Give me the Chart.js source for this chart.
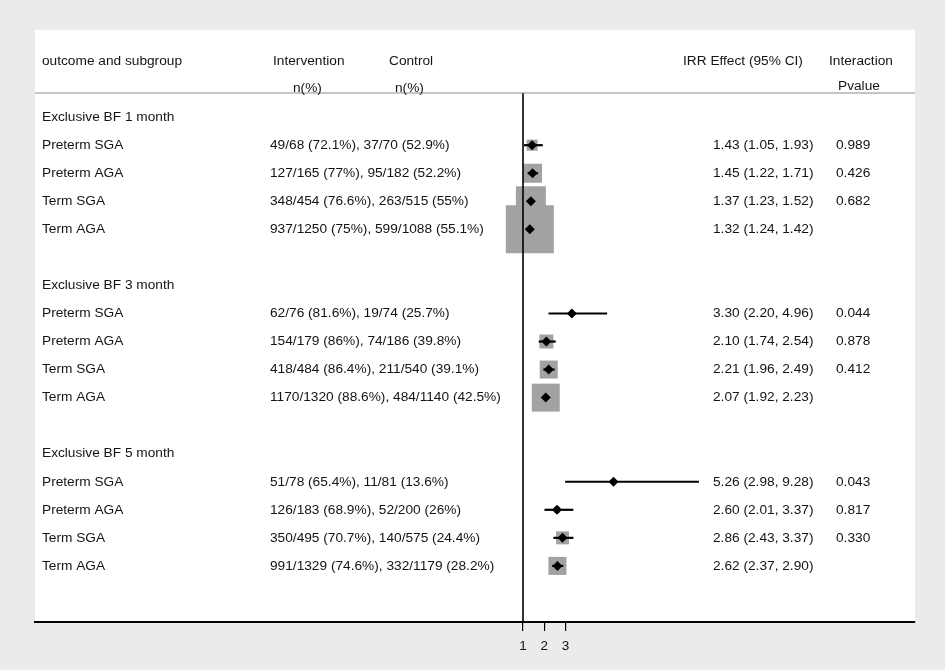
<!DOCTYPE html>
<html><head><meta charset="utf-8">
<script src="https://cdn.jsdelivr.net/npm/chart.js@4.4.1/dist/chart.umd.min.js"></script>
<style>html,body{margin:0;padding:0;background:#ebebeb;overflow:hidden}#wrap{width:945px;height:670px;position:relative}</style>
</head><body><div id="wrap"><canvas id="c" width="945" height="670"></canvas></div>
<script>
const outcomes = ['Exclusive BF 1 month', 'Exclusive BF 3 month', 'Exclusive BF 5 month'];
const subgroups = ['Preterm SGA', 'Preterm AGA', 'Term SGA', 'Term AGA'];
const interventionN = [49, 127, 348, 937, 62, 154, 418, 1170, 51, 126, 350, 991];
const interventionTotal = [68, 165, 454, 1250, 76, 179, 484, 1320, 78, 183, 495, 1329];
const interventionPct = ['72.1', '77', '76.6', '75', '81.6', '86', '86.4', '88.6', '65.4', '68.9', '70.7', '74.6'];
const controlN = [37, 95, 263, 599, 19, 74, 211, 484, 11, 52, 140, 332];
const controlTotal = [70, 182, 515, 1088, 74, 186, 540, 1140, 81, 200, 575, 1179];
const controlPct = ['52.9', '52.2', '55', '55.1', '25.7', '39.8', '39.1', '42.5', '13.6', '26', '24.4', '28.2'];
const irr = [1.43, 1.45, 1.37, 1.32, 3.30, 2.10, 2.21, 2.07, 5.26, 2.60, 2.86, 2.62];
const ciLower = [1.05, 1.22, 1.23, 1.24, 2.20, 1.74, 1.96, 1.92, 2.98, 2.01, 2.43, 2.37];
const ciUpper = [1.93, 1.71, 1.52, 1.42, 4.96, 2.54, 2.49, 2.23, 9.28, 3.37, 3.37, 2.90];
const pInteraction = ['0.989', '0.426', '0.682', null, '0.044', '0.878', '0.412', null, '0.043', '0.817', '0.330', null];
const weights = [5.3, 15.7, 39.1, 100, 0.7, 8.5, 14.1, 34, 0.4, 1.6, 7.3, 14.1];
const xTicks = [1, 2, 3];

const FONT = '"Liberation Sans", Arial, sans-serif';
const nSub = subgroups.length;
const rowOf = i => Math.floor(i / nSub) * (nSub + 2) + 1 + (i % nSub);
const idx = irr.map((_, i) => i);

const datasets = [];
datasets.push({
  label: 'weight', type: 'scatter', order: 3,
  data: idx.map(i => ({x: irr[i], y: rowOf(i)})),
  pointStyle: 'rect',
  pointRadius: weights.map(w => 48 * Math.sqrt(w / 100) / Math.SQRT2),
  pointHoverRadius: weights.map(w => 48 * Math.sqrt(w / 100) / Math.SQRT2),
  backgroundColor: '#a2a2a2', borderWidth: 0
});
idx.forEach(i => datasets.push({
  label: 'ci' + i, type: 'line', order: 2, showLine: true,
  data: [{x: ciLower[i], y: rowOf(i)}, {x: ciUpper[i], y: rowOf(i)}],
  borderColor: '#000', borderWidth: 2.2, pointRadius: 0
}));
datasets.push({
  label: 'null', type: 'line', order: 2, showLine: true,
  data: [{x: 1, y: -0.86}, {x: 1, y: 18}],
  borderColor: '#000', borderWidth: 1.6, pointRadius: 0
});
datasets.push({
  label: 'irr', type: 'scatter', order: 1,
  data: idx.map(i => ({x: irr[i], y: rowOf(i)})),
  pointStyle: 'rectRot', pointRadius: 5, backgroundColor: '#000', borderWidth: 0
});

const panelPlugin = {
  id: 'panel',
  beforeDraw(chart) {
    const {ctx, chartArea: a} = chart;
    ctx.save();
    ctx.fillStyle = '#ebebeb';
    ctx.fillRect(0, 0, chart.width, chart.height);
    ctx.fillStyle = '#ffffff';
    ctx.fillRect(a.left, a.top, a.right - a.left, a.bottom - a.top);
    ctx.restore();
  },
  afterDatasetsDraw(chart) {
    const {ctx, chartArea: a, scales: {y}} = chart;
    ctx.save();
    const ySep = y.getPixelForValue(-0.86);
    ctx.strokeStyle = '#8c8c8c';
    ctx.lineWidth = 1.2;
    ctx.beginPath(); ctx.moveTo(a.left, ySep); ctx.lineTo(a.right, ySep); ctx.stroke();

    ctx.fillStyle = '#141414';
    ctx.font = '13.7px ' + FONT;
    ctx.textBaseline = 'middle';
    ctx.textAlign = 'left';
    const yh1 = y.getPixelForValue(-2);
    const yh2 = y.getPixelForValue(-1.07);
    ctx.fillText('outcome and subgroup', 42, yh1);
    ctx.fillText('Intervention', 273, yh1);
    ctx.fillText('n(%)', 293, yh2 + 1);
    ctx.fillText('Control', 389, yh1);
    ctx.fillText('n(%)', 395, yh2 + 1);
    ctx.fillText('IRR Effect (95% CI)', 683, yh1);
    ctx.fillText('Interaction', 829, yh1);
    ctx.fillText('Pvalue', 838, yh2 - 1);

    outcomes.forEach((o, g) => {
      ctx.fillText(o, 42, y.getPixelForValue(g * (nSub + 2)));
    });
    idx.forEach(i => {
      const yy = y.getPixelForValue(rowOf(i));
      ctx.fillText(subgroups[i % nSub], 42, yy);
      ctx.fillText(interventionN[i] + '/' + interventionTotal[i] + ' (' + interventionPct[i] + '%), ' +
        controlN[i] + '/' + controlTotal[i] + ' (' + controlPct[i] + '%)', 270, yy);
      ctx.fillText(irr[i].toFixed(2) + ' (' + ciLower[i].toFixed(2) + ', ' + ciUpper[i].toFixed(2) + ')', 713, yy);
      if (pInteraction[i]) ctx.fillText(pInteraction[i], 836, yy);
    });
    ctx.restore();
  }
};

new Chart(document.getElementById('c'), {
  type: 'scatter',
  data: {datasets},
  options: {
    responsive: false, animation: false, devicePixelRatio: 1,
    layout: {autoPadding: false, padding: {left: 35, right: 30, top: 30, bottom: 0}},
    plugins: {legend: {display: false}, tooltip: {enabled: false}},
    scales: {
      x: {
        type: 'linear', min: -21.965, max: 19.447,
        afterBuildTicks: s => { s.ticks = xTicks.map(v => ({value: v})); },
        afterFit: s => { s.height = 48; },
        grid: {drawOnChartArea: false, drawTicks: true, tickLength: 9, color: '#000', lineWidth: 1.2},
        border: {display: true, color: '#000', width: 2},
        ticks: {color: '#141414', font: {family: FONT, size: 13.5}, padding: 7, autoSkip: false, maxRotation: 0}
      },
      y: {type: 'linear', min: -3.107, max: 18, reverse: true, display: false}
    }
  },
  plugins: [panelPlugin]
});
</script></body></html>
